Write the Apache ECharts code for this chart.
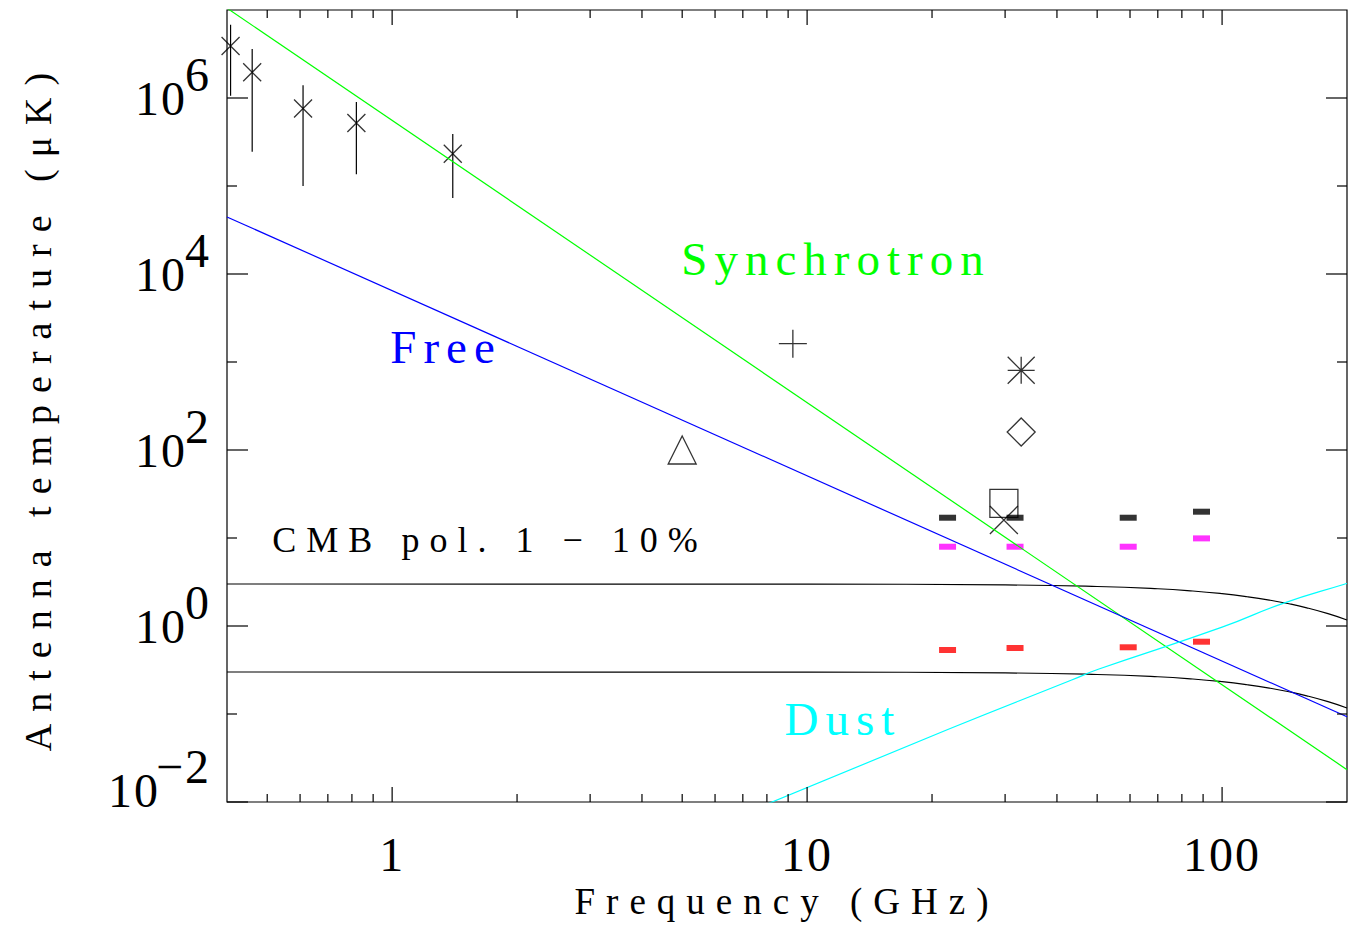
<!DOCTYPE html>
<html>
<head>
<meta charset="utf-8">
<title>Foreground spectra</title>
<script src="https://cdn.jsdelivr.net/npm/echarts@6/dist/echarts.min.js"></script>
<style>
html, body { margin: 0; padding: 0; background: #fff; }
#chart { width: 1356px; height: 938px; }
/* Hershey-like wide spacing for the plot lettering */
#chart text[style*="37px"] { letter-spacing: 11px; }
#chart text[style*="38px"] { letter-spacing: 12px; }
#chart text[style*="36px"] { letter-spacing: 10px; }
#chart text[style*="47px"] { letter-spacing: 7px; }
#chart text[style*="48px"] { letter-spacing: 2px; }
</style>
</head>
<body>
<div id="chart"></div>
<script>
// axis ranges
const xMin = 0.4, xMax = 200;
const yMin = 0.01, yMax = 1e7;

// tick positions
const xMajorTicks = [1, 10, 100];
const xMinorTicks = [0.5, 0.6, 0.7, 0.8, 0.9, 2, 3, 4, 5, 6, 7, 8, 9,
  20, 30, 40, 50, 60, 70, 80, 90];
const yMajorTicks = [1e-2, 1, 1e2, 1e4, 1e6];
const yMinorTicks = [1e-1, 1e1, 1e3, 1e5];

// foreground models (GHz, uK)
const synchFreq = [0.4, 200];
const synchT = [1.05e7, 0.0233];
const freeFreq = [0.4, 200];
const freeT = [4.45e4, 0.093];
const dustFreq = [8.0, 21.9, 43.4, 50.3, 100, 140.3, 197, 200];
const dustT = [0.00945, 0.067, 0.243, 0.322, 0.97, 1.81, 2.98, 3.04];

// CMB polarisation, 10% and 1%
const cmbFreq = [0.4, 10, 30, 50, 70, 85, 100, 115, 130, 145, 160, 180, 200];
const cmbHigh = [3.0, 2.99, 2.93, 2.81, 2.65, 2.50, 2.33, 2.15, 1.97, 1.79, 1.61, 1.38, 1.17];
const cmbLow = [0.30, 0.299, 0.293, 0.281, 0.265, 0.250, 0.233, 0.215, 0.197, 0.179, 0.161, 0.138, 0.117];

// low frequency surveys with error bars
const surveyFreq = [0.408, 0.46, 0.61, 0.82, 1.4];
const surveyT = [3.9e6, 1.96e6, 7.6e5, 5.2e5, 2.33e5];
const surveyLo = [1.06e6, 2.45e5, 1.0e5, 1.36e5, 7.3e4];
const surveyHi = [6.8e6, 3.6e6, 1.4e6, 9.0e5, 3.9e5];

// single measurements
const plusPt = [[9.24, 1615]];
const trianglePt = [[5.0, 100]];
const starPt = [[32.8, 805]];
const diamondPt = [[32.8, 160]];
const squarePt = [[29.8, 24.8]];
const crossPt = [[29.8, 16.0]];

// sensitivity dashes
const dashFreq = [21.8, 31.7, 59.4, 89.2];
const dashBlack = [17.0, 17.0, 17.0, 19.9];
const dashMagenta = [7.96, 7.96, 7.96, 9.9];
const dashRed = [0.534, 0.562, 0.573, 0.663];

const FONT = '"Liberation Serif", "DejaVu Serif", serif';
const SYM_X = 'path://M0,0L10,10M10,0L0,10';
const SYM_PLUS = 'path://M5,0L5,10M0,5L10,5';
const SYM_STAR = 'path://M5,0L5,10M0,5L10,5M0,0L10,10M10,0L0,10';

const zip = (a, b) => a.map((v, i) => [v, b[i]]);

function seg(x1, y1, x2, y2) {
  return { type: 'line', shape: { x1, y1, x2, y2 }, style: { stroke: '#000', lineWidth: 1.2 } };
}

// inward ticks on both sides of the frame
function tickSeries(values, axis, len) {
  return {
    type: 'custom',
    silent: true,
    z: 5,
    data: values.map(v => axis === 'x' ? [v, yMin] : [xMin, v]),
    renderItem: function (params, api) {
      if (axis === 'x') {
        const v = api.value(0);
        const a = api.coord([v, yMin]);
        const b = api.coord([v, yMax]);
        return { type: 'group', children: [seg(a[0], a[1], a[0], a[1] - len), seg(b[0], b[1], b[0], b[1] + len)] };
      }
      const v = api.value(1);
      const a = api.coord([xMin, v]);
      const b = api.coord([xMax, v]);
      return { type: 'group', children: [seg(a[0], a[1], a[0] + len, a[1]), seg(b[0], b[1], b[0] - len, b[1])] };
    }
  };
}

function lineSeries(x, y, color, smooth) {
  return {
    type: 'line',
    data: zip(x, y),
    symbol: 'none',
    smooth: smooth || false,
    lineStyle: { color: color, width: 1.2 },
    clip: true,
    silent: true
  };
}

function markerSeries(data, symbol, size, stroke) {
  return {
    type: 'scatter',
    data: data,
    symbol: symbol,
    symbolSize: size,
    clip: true,
    itemStyle: { color: 'rgba(0,0,0,0)', borderColor: stroke || '#000', borderWidth: 1.3 },
    silent: true
  };
}

function dashSeries(y, color) {
  return {
    type: 'scatter',
    data: zip(dashFreq, y),
    symbol: 'rect',
    symbolSize: [17, 6],
    itemStyle: { color: color },
    silent: true
  };
}

const chart = echarts.init(document.getElementById('chart'), null, { renderer: 'svg' });

const option = {
  animation: false,
  backgroundColor: '#fff',
  grid: {
    left: 227, right: 9, top: 10, bottom: 136,
    show: true, borderColor: '#000', borderWidth: 1.2,
    outerBoundsMode: 'none'
  },
  xAxis: {
    type: 'log', logBase: 10, min: xMin, max: xMax,
    name: 'Frequency (GHz)', nameLocation: 'middle', nameGap: 77,
    nameTextStyle: { fontFamily: FONT, fontSize: 37, color: '#000' },
    axisLine: { show: false },
    axisTick: { show: false },
    splitLine: { show: false },
    axisLabel: {
      margin: 28, fontFamily: FONT, fontSize: 48, color: '#000',
      showMinLabel: false, showMaxLabel: false,
      formatter: function (v) {
        const e = Math.log10(v);
        return Math.abs(e - Math.round(e)) < 1e-6 ? String(Math.round(v)) : '';
      }
    }
  },
  yAxis: {
    type: 'log', logBase: 10, min: yMin, max: yMax,
    name: 'Antenna temperature (\u03bcK)', nameLocation: 'middle', nameRotate: 90, nameGap: 170,
    nameTextStyle: { fontFamily: FONT, fontSize: 38, color: '#000' },
    axisLine: { show: false },
    axisTick: { show: false },
    splitLine: { show: false },
    axisLabel: {
      margin: 16, color: '#000', showMaxLabel: false,
      formatter: function (v) {
        const e = Math.round(Math.log10(v));
        if (Math.abs(Math.log10(v) - e) > 1e-6 || e % 2 !== 0) return '';
        const exp = e < 0 ? '\u2212' + (-e) : String(e);
        // the lowest label sits a little above its tick, as in the original
        return e === -2 ? '{bl|10}{sl|' + exp + '}' : '{b|10}{s|' + exp + '}';
      },
      rich: {
        b: { fontFamily: FONT, fontSize: 48, color: '#000', lineHeight: 48 },
        s: { fontFamily: FONT, fontSize: 48, color: '#000', lineHeight: 48, padding: [0, 0, 48, 0] },
        bl: { fontFamily: FONT, fontSize: 48, color: '#000', lineHeight: 48, padding: [0, 0, 24, 0] },
        sl: { fontFamily: FONT, fontSize: 48, color: '#000', lineHeight: 48, padding: [0, 0, 72, 0] }
      }
    }
  },
  graphic: [
    { type: 'text', x: 836, y: 259, silent: true,
      style: { text: 'Synchrotron', fill: '#00ff00', fontFamily: FONT, fontSize: 47, align: 'center', verticalAlign: 'middle' } },
    { type: 'text', x: 446, y: 347, silent: true,
      style: { text: 'Free', fill: '#0000ff', fontFamily: FONT, fontSize: 47, align: 'center', verticalAlign: 'middle' } },
    { type: 'text', x: 843, y: 719, silent: true,
      style: { text: 'Dust', fill: '#00ffff', fontFamily: FONT, fontSize: 47, align: 'center', verticalAlign: 'middle' } },
    { type: 'text', x: 490, y: 540, silent: true,
      style: { text: 'CMB pol. 1 \u2212 10%', fill: '#000', fontFamily: FONT, fontSize: 36, align: 'center', verticalAlign: 'middle' } }
  ],
  series: [
    tickSeries(xMajorTicks, 'x', 15),
    tickSeries(xMinorTicks, 'x', 8),
    tickSeries(yMajorTicks, 'y', 21),
    tickSeries(yMinorTicks, 'y', 10),
    lineSeries(cmbFreq, cmbHigh, '#000', true),
    lineSeries(cmbFreq, cmbLow, '#000', true),
    lineSeries(synchFreq, synchT, '#00ff00'),
    lineSeries(freeFreq, freeT, '#0000ff'),
    lineSeries(dustFreq, dustT, '#00ffff', true),
    {
      type: 'custom',
      silent: true,
      clip: true,
      data: surveyFreq.map((f, i) => [f, surveyLo[i], surveyHi[i]]),
      encode: { x: 0, y: [1, 2] },
      renderItem: function (params, api) {
        const lo = api.coord([api.value(0), api.value(1)]);
        const hi = api.coord([api.value(0), api.value(2)]);
        return seg(lo[0], lo[1], hi[0], hi[1]);
      }
    },
    markerSeries(zip(surveyFreq, surveyT), SYM_X, 18),
    markerSeries(plusPt, SYM_PLUS, 28),
    markerSeries(trianglePt, 'triangle', 28),
    markerSeries(starPt, SYM_STAR, 27),
    markerSeries(diamondPt, 'diamond', 28),
    markerSeries(squarePt, 'rect', 28),
    markerSeries(crossPt, SYM_X, 28),
    dashSeries(dashBlack, '#000'),
    dashSeries(dashMagenta, '#ff00ff'),
    dashSeries(dashRed, '#ff0000')
  ]
};

chart.setOption(option);
</script>
</body>
</html>
